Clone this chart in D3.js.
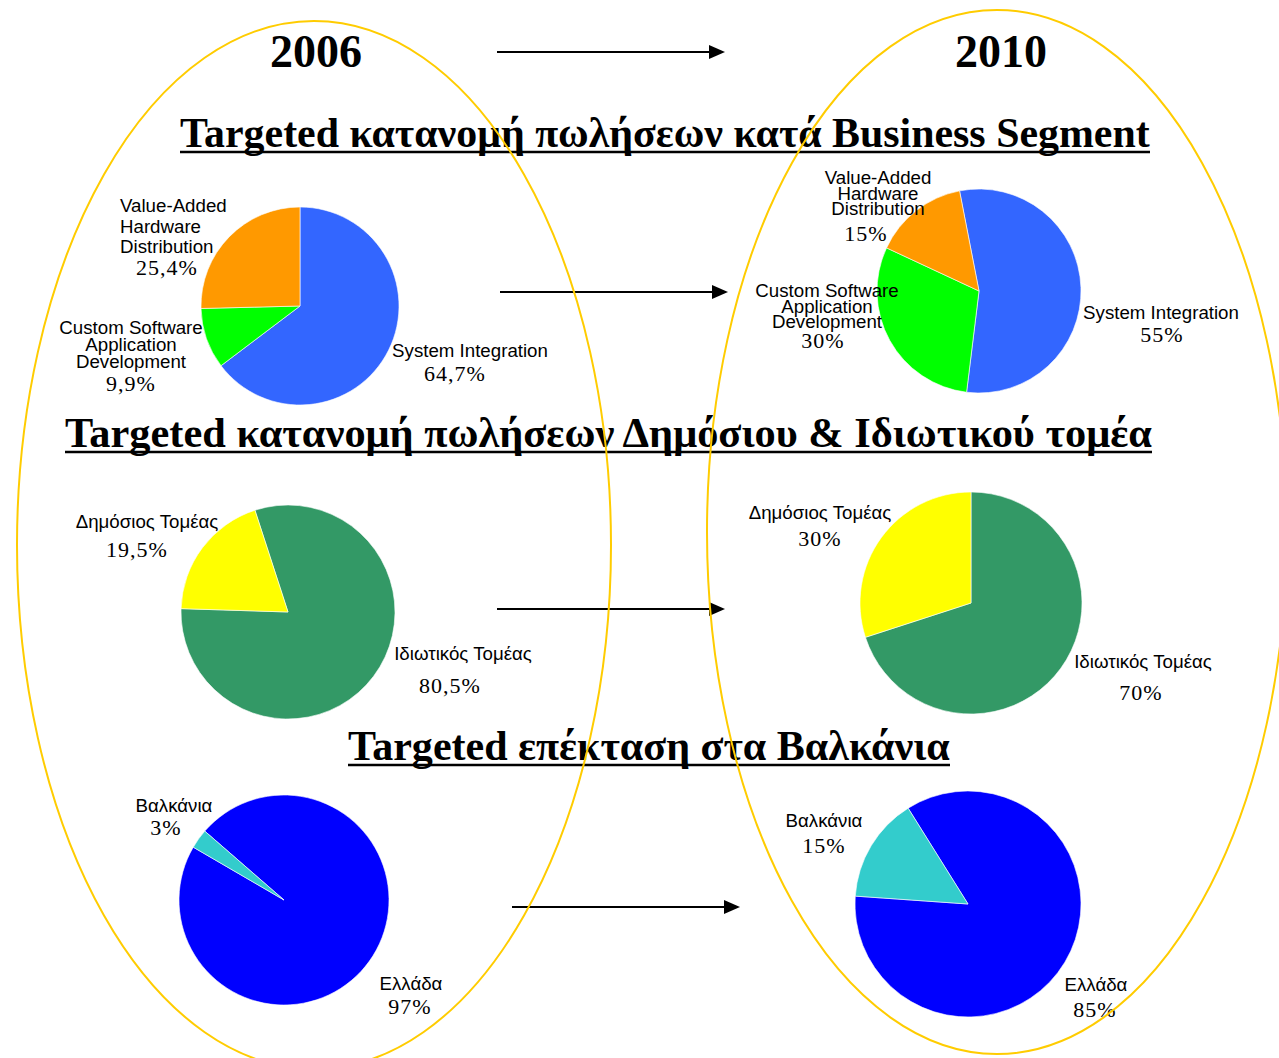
<!DOCTYPE html>
<html>
<head>
<meta charset="utf-8">
<script src="https://cdn.jsdelivr.net/npm/d3@7"></script>
<style>
  html, body { margin: 0; padding: 0; background: #fff; }
  svg { display: block; }
</style>
</head>
<body>
<svg id="chart"></svg>
<script>
// Data
const years = ["2006", "2010"]
const headings = [
  "Targeted κατανομή πωλήσεων κατά Business Segment",
  "Targeted κατανομή πωλήσεων Δημόσιου & Ιδιωτικού τομέα",
  "Targeted επέκταση στα Βαλκάνια"
]
const segments = [["System Integration"], ["Custom Software", "Application", "Development"], ["Value-Added", "Hardware", "Distribution"]]
const segments2006 = [64.7, 9.9, 25.4]
const segments2010 = [55, 30, 15]
const sectors = [["Ιδιωτικός Τομέας"], ["Δημόσιος Τομέας"]]
const sectors2006 = [80.5, 19.5]
const sectors2010 = [70, 30]
const regions = [["Ελλάδα"], ["Βαλκάνια"]]
const regions2006 = [97, 3]
const regions2010 = [85, 15]

const W = 1279, H = 1058
const svg = d3.select("#chart").attr("width", W).attr("height", H)

const fmt = d3.formatLocale({ decimal: ",", thousands: ".", grouping: [3], currency: ["", "€"] })
const pct = v => (Number.isInteger(v) ? v : fmt.format(".1f")(v)) + "%"

const serif = "'Liberation Serif', 'Times New Roman', serif"
const sans = "'Liberation Sans', Arial, sans-serif"

// year titles
const yearX = [316, 1001]
svg.selectAll(".year").data(years).enter().append("text")
  .attr("x", (d, i) => yearX[i]).attr("y", 67)
  .attr("text-anchor", "middle")
  .style("font-family", serif).style("font-weight", "bold").style("font-size", "46px")
  .text(d => d)

// headings, fitted to their span and underlined
const headSpan = [[180, 1150, 147], [65, 1152, 447], [348, 950, 760]]
headings.forEach((h, i) => {
  const [x0, x1, y] = headSpan[i]
  const t = svg.append("text").attr("x", x0).attr("y", y)
    .style("font-family", serif).style("font-weight", "bold").style("font-size", "40px")
    .text(h)
  const len = t.node().getComputedTextLength()
  t.style("font-size", (40 * (x1 - x0) / len) + "px")
  svg.append("line").attr("x1", x0).attr("x2", x1).attr("y1", y + 5).attr("y2", y + 5)
    .attr("stroke", "#000").attr("stroke-width", 2.5)
})

// arrows
const arrows = [[497, 725, 52], [500, 728, 292], [497, 725, 609], [512, 740, 907]]
arrows.forEach(([x1, x2, y]) => {
  svg.append("line").attr("x1", x1).attr("x2", x2 - 12).attr("y1", y).attr("y2", y)
    .attr("stroke", "#000").attr("stroke-width", 2)
  svg.append("path").attr("d", `M${x2},${y}L${x2 - 16},${y - 7}L${x2 - 16},${y + 7}Z`).attr("fill", "#000")
})

// pies
const segColors = ["#3366FF", "#00FF00", "#FF9900"]
const secColors = ["#339966", "#FFFF00"]
const regColors = ["#0000FF", "#33CCCC"]
const deg = Math.PI / 180

const pies = [
  { values: segments2006, names: segments, colors: segColors, cx: 300, cy: 306, r: 99, start: 0,
    labels: [
      { x: 470, y: 357, anchor: "middle", lh: 0, px: 455, py: 381 },
      { x: 131, y: 334, anchor: "middle", lh: 17, px: 131, py: 391 },
      { x: 120, y: 212, anchor: "start", lh: 20.5, px: 167, py: 275 }
    ] },
  { values: segments2010, names: segments, colors: segColors, cx: 979, cy: 291, r: 102, start: -11,
    labels: [
      { x: 1161, y: 319, anchor: "middle", lh: 0, px: 1162, py: 342 },
      { x: 827, y: 297, anchor: "middle", lh: 15.5, px: 823, py: 348 },
      { x: 878, y: 184, anchor: "middle", lh: 15.5, px: 866, py: 241 }
    ] },
  { values: sectors2006, names: sectors, colors: secColors, cx: 288, cy: 612, r: 107, start: -18,
    labels: [
      { x: 463, y: 660, anchor: "middle", lh: 0, px: 450, py: 693 },
      { x: 147, y: 528, anchor: "middle", lh: 0, px: 137, py: 557 }
    ] },
  { values: sectors2010, names: sectors, colors: secColors, cx: 971, cy: 603, r: 111, start: 0,
    labels: [
      { x: 1143, y: 668, anchor: "middle", lh: 0, px: 1141, py: 700 },
      { x: 820, y: 519, anchor: "middle", lh: 0, px: 820, py: 546 }
    ] },
  { values: regions2006, names: regions, colors: regColors, cx: 284, cy: 900, r: 105, start: -49,
    labels: [
      { x: 411, y: 990, anchor: "middle", lh: 0, px: 410, py: 1014 },
      { x: 174, y: 812, anchor: "middle", lh: 0, px: 166, py: 835 }
    ] },
  { values: regions2010, names: regions, colors: regColors, cx: 968, cy: 904, r: 113, start: -32,
    labels: [
      { x: 1096, y: 991, anchor: "middle", lh: 0, px: 1095, py: 1017 },
      { x: 824, y: 827, anchor: "middle", lh: 0, px: 824, py: 853 }
    ] }
]

pies.forEach(p => {
  const arcs = d3.pie().sort(null)
    .startAngle(p.start * deg).endAngle(p.start * deg + 2 * Math.PI)(p.values)
  const arc = d3.arc().innerRadius(0).outerRadius(p.r)
  const g = svg.append("g").attr("transform", `translate(${p.cx},${p.cy})`)
  g.selectAll("path").data(arcs).enter().append("path")
    .attr("d", arc)
    .attr("fill", (d, i) => p.colors[i])
    .attr("stroke", "#fff").attr("stroke-width", 0.6)

  p.labels.forEach((l, i) => {
    const t = svg.append("text")
      .attr("text-anchor", l.anchor)
      .style("font-family", sans).style("font-size", "18.7px").style("fill", "#000")
    p.names[i].forEach((line, j) => {
      t.append("tspan").attr("x", l.x).attr("y", l.y + j * l.lh).text(line)
    })
    svg.append("text").attr("x", l.px).attr("y", l.py)
      .attr("text-anchor", "middle")
      .style("font-family", serif).style("font-size", "22px").style("letter-spacing", "1px")
      .text(pct(p.values[i]))
  })
})

// the two yellow year ellipses on top
const ellipses = [[314, 545, 297, 524], [997, 532, 290, 522]]
svg.selectAll(".ell").data(ellipses).enter().append("ellipse")
  .attr("cx", d => d[0]).attr("cy", d => d[1]).attr("rx", d => d[2]).attr("ry", d => d[3])
  .attr("fill", "none").attr("stroke", "#FFCC00").attr("stroke-width", 2)
</script>
</body>
</html>
